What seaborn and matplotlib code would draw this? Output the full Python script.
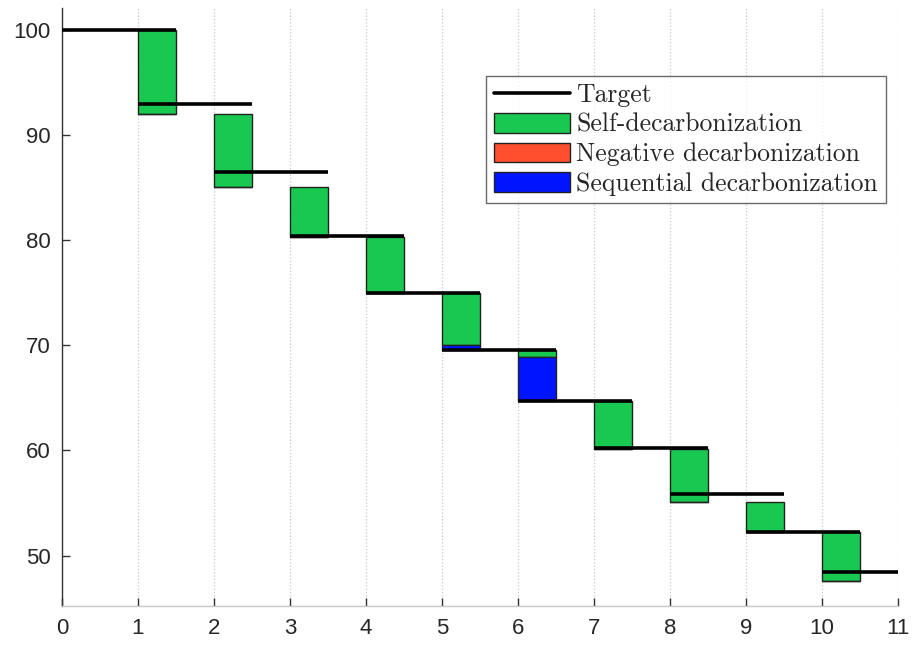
import numpy as np
import matplotlib.pyplot as plt
import seaborn as sns
from matplotlib.patches import Patch
from matplotlib.lines import Line2D

# Data
steps = np.arange(1, 11)
start_level = 100.0
self_decarb = [8.0, 6.9, 4.8, 5.3, 5.0, 0.7, 4.6, 5.0, 2.9, 4.6]
negative_decarb = [0, 0, 0, 0, 0, 0, 0, 0, 0, 0]
sequential_decarb = [0, 0, 0, 0, 0.4, 4.2, 0, 0, 0, 0]
targets = [100, 93.0, 86.5, 80.4, 75.0, 69.6, 64.7, 60.2, 55.9, 52.2, 48.4]
target_steps = np.arange(0, 11)

green = '#19C850'
red = '#FF4F2E'
blue = '#0015FF'

sns.set_theme(style='white')
plt.rcParams['font.family'] = ['Liberation Sans', 'DejaVu Sans']

fig = plt.figure(figsize=(9.17, 6.47), dpi=100)
ax = fig.add_axes([0.0676, 0.0634, 0.9114, 0.924])

self_arr = np.array(self_decarb)
seq_arr = np.array(sequential_decarb)
neg_arr = np.array(negative_decarb)
levels_before = start_level - np.concatenate([[0], np.cumsum(self_arr + seq_arr - neg_arr)[:-1]])

# green: self-decarbonization from previous level downward
ax.bar(steps, -self_arr, bottom=levels_before, width=0.5, align='edge',
       color=green, edgecolor='#222222', linewidth=1.0, zorder=2)
# blue: sequential decarbonization below the green part
ax.bar(steps, -seq_arr, bottom=levels_before - self_arr, width=0.5, align='edge',
       color=blue, edgecolor='#222222', linewidth=1.0, zorder=2)

# target lines
ax.hlines(targets, target_steps, target_steps + 1.5, color='black', linewidth=2.6, zorder=3)

ax.set_xlim(0, 11)
ax.set_ylim(45.2, 102.1)
ax.set_xticks(range(0, 12))
ax.set_yticks([50, 60, 70, 80, 90, 100])
ax.grid(axis='x', color='#c8c8c8', linestyle=':', linewidth=0.9)
ax.grid(axis='y', visible=False)

sns.despine(ax=ax, top=True, right=True)
ax.spines['left'].set_color('#333333')
ax.spines['bottom'].set_color('#c8c8c8')
ax.spines['left'].set_linewidth(1.0)
ax.spines['bottom'].set_linewidth(1.0)
ax.tick_params(axis='both', direction='in', length=6, width=1.0, colors='#333333',
               labelsize=16, labelcolor='#262626')
ax.tick_params(axis='x', pad=9, bottom=True)
ax.tick_params(axis='y', pad=8, left=True)

handles = [
    Line2D([0], [0], color='black', linewidth=2.6),
    Patch(facecolor=green, edgecolor='#222222'),
    Patch(facecolor=red, edgecolor='#222222'),
    Patch(facecolor=blue, edgecolor='#222222'),
]
labels = ['Target', 'Self-decarbonization', 'Negative decarbonization', 'Sequential decarbonization']
leg = fig.legend(handles, labels, loc='upper right', bbox_to_anchor=(0.966, 0.8825),
                 prop={'family': 'cmr10', 'size': 18.5}, frameon=True, fancybox=False,
                 handlelength=2.95, handleheight=0.8, handletextpad=0.25,
                 labelspacing=0.22, borderpad=0.3, borderaxespad=0)
leg.get_frame().set_edgecolor('#444444')
leg.get_frame().set_linewidth(1.0)

fig.savefig('out.png', dpi=100)
